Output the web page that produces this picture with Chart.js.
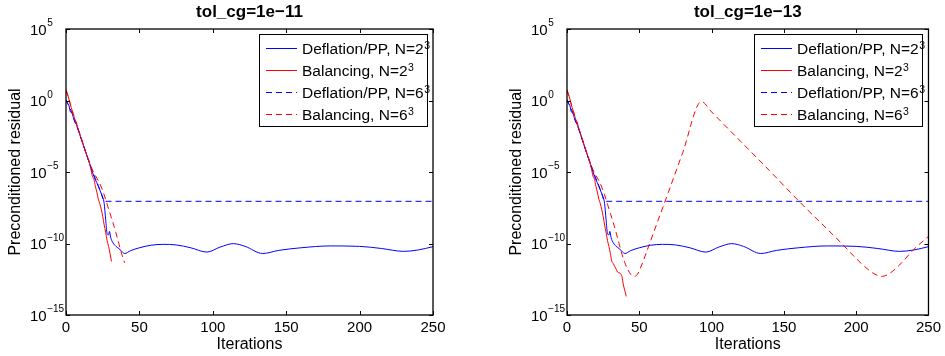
<!DOCTYPE html>
<html>
<head>
<meta charset="utf-8">
<script src="https://cdn.jsdelivr.net/npm/chart.js@4.4.1/dist/chart.umd.min.js"></script>
<style>
  html, body { margin: 0; padding: 0; background: #fff; }
  #wrap { position: relative; width: 945px; height: 356px; }
  canvas { position: absolute; top: 0; }
  #chartLeft { left: 0; }
  #chartRight { left: 501px; }
</style>
</head>
<body>
<div id="wrap">
  <canvas id="chartLeft" width="472" height="356"></canvas>
  <canvas id="chartRight" width="444" height="356"></canvas>
</div>
<script>
// panel titles, legend labels, axis ticks ('^' marks a superscript)
const panelTitles = ['tol_cg=1e\u221211', 'tol_cg=1e\u221213'];
const seriesLabels = ['Deflation/PP, N=2^3', 'Balancing, N=2^3', 'Deflation/PP, N=6^3', 'Balancing, N=6^3'];
const xTicks = [0, 50, 100, 150, 200, 250];
const yTickExp = [-15, -10, -5, 0, 5];
const yTickLabels = ['10^\u221215', '10^\u221210', '10^\u22125', '10^0', '10^5'];

// residuals are kept as log10 exponents
// Deflation/PP, N=2^3 (same in both panels)
const deflN2It  = [0, 1, 2, 3, 4, 5, 6, 7, 8, 9, 10, 11, 12, 13, 14, 15, 16, 17, 18, 19, 20, 21, 22, 23, 24, 25, 26, 27, 28, 29, 29.6, 30.5, 32, 34, 36, 38, 40, 44, 50, 58, 66, 75, 85, 96, 105, 114, 122, 134, 145, 160, 180, 200, 215, 230, 240, 250];
const deflN2Exp = [0, -0.2, -0.35, -0.8, -0.85, -1.2, -1.5, -1.65, -2.0, -2.25, -2.6, -2.85, -3.2, -3.5, -3.8, -4.1, -4.4, -4.75, -5.0, -5.3, -5.55, -5.75, -6.0, -6.25, -6.5, -6.75, -7.2, -8.3, -9.3, -9.4, -9.15, -9.6, -9.95, -10.2, -10.35, -10.55, -10.7, -10.5, -10.3, -10.12, -10.06, -10.1, -10.3, -10.6, -10.25, -10.01, -10.2, -10.7, -10.48, -10.3, -10.17, -10.2, -10.35, -10.55, -10.45, -10.22];

// Balancing, N=2^3 (right panel runs further; left panel stops earlier)
const balN2It  = [0, 1, 2, 3, 4, 5, 6, 7, 8, 9, 10, 11, 12, 13, 14, 15, 16, 17, 18, 19, 20, 21, 22, 23, 24, 25, 26, 27, 28, 29, 30, 31, 32, 33, 34, 35, 36, 37, 38, 39, 40, 41];
const balN2Exp = [0.75, 0.45, 0.1, -0.3, -0.65, -0.9, -1.35, -1.5, -1.9, -2.2, -2.55, -2.9, -3.15, -3.5, -3.75, -4.1, -4.35, -4.8, -5.3, -5.5, -6.0, -6.4, -6.9, -7.2, -7.6, -8.1, -8.7, -9.2, -9.8, -10.2, -10.7, -11.25, -11.4, -11.6, -11.8, -12.0, -12.05, -12.1, -12.3, -12.9, -13.3, -13.7];
const balN2LeftStop = 31;

// Deflation/PP, N=6^3
const deflN6It  = [0, 2, 4, 6, 8, 10, 12, 14, 16, 18, 20, 22, 24, 26, 250];
const deflN6Exp = [0.05, -0.4, -0.85, -1.45, -1.95, -2.55, -3.15, -3.8, -4.35, -4.95, -5.45, -5.95, -6.5, -7.05, -7.05];

// Balancing, N=6^3
const balN6It  = [0, 2, 4, 6, 8, 10, 12, 14, 16, 18, 20, 22, 24, 26, 28, 30, 32, 34, 36, 38, 40, 42, 44, 46, 48, 50, 55, 60, 70, 80, 93, 100, 120, 140, 160, 180, 190, 200, 208, 213, 218, 223, 230, 240, 250];
const balN6Exp = [0.7, 0.1, -0.7, -1.3, -1.95, -2.5, -3.15, -3.75, -4.35, -4.85, -5.25, -5.6, -6.05, -6.6, -7.25, -7.9, -8.55, -9.25, -10.0, -10.75, -11.35, -11.8, -12.15, -12.3, -12.25, -11.9, -10.6, -9.2, -6.45, -3.65, -0.08, -0.8, -2.85, -4.9, -7.0, -9.0, -10.0, -11.05, -11.8, -12.15, -12.3, -12.1, -11.5, -10.4, -9.5];
const balN6LeftStop = 40;

const FONT = '"Liberation Sans", Arial, Helvetica, sans-serif';
const yAxisTitle = 'Preconditioned residual';
const xAxisTitle = 'Iterations';

function points(its, exps, stop) {
    const out = [];
    its.forEach((it, i) => {
        if (stop === undefined || it <= stop) out.push({ x: it, y: Math.pow(10, exps[i]) });
    });
    return out;
}

function makeDatasets(panel) {
    const left = panel === 0;
    // later series drawn on top, like matlab
    return [
        { label: seriesLabels[0], order: 3, data: points(deflN2It, deflN2Exp), borderColor: '#0000ff', borderWidth: 1 },
        { label: seriesLabels[1], order: 2, data: points(balN2It, balN2Exp, left ? balN2LeftStop : undefined), borderColor: '#ff0000', borderWidth: 1 },
        { label: seriesLabels[2], order: 1, data: points(deflN6It, deflN6Exp), borderColor: '#0000ff', borderWidth: 1, borderDash: [6, 4] },
        { label: seriesLabels[3], order: 0, data: points(balN6It, balN6Exp, left ? balN6LeftStop : undefined), borderColor: '#ff0000', borderWidth: 1, borderDash: [6, 4] }
    ];
}

// text with one optional superscript part after '^'
function supText(ctx, str, x, y, size, supSize, rise) {
    const parts = str.split('^');
    ctx.font = size + 'px ' + FONT;
    ctx.fillText(parts[0], x, y);
    if (parts.length > 1) {
        const w = ctx.measureText(parts[0]).width;
        ctx.font = supSize + 'px ' + FONT;
        ctx.fillText(parts[1], x + w + 0.5, y - rise);
    }
}

// matlab-like box, inward ticks, y labels, rotated y title and legend inside the axes
const matlabFrame = {
    id: 'matlabFrame',
    afterDraw(chart) {
        const ctx = chart.ctx;
        const a = chart.chartArea;
        const xs = chart.scales.x, ys = chart.scales.y;
        ctx.save();
        ctx.strokeStyle = '#000';
        ctx.lineWidth = 1.3;
        ctx.strokeRect(a.left, a.top, a.right - a.left, a.bottom - a.top);
        ctx.lineWidth = 1;
        ctx.beginPath();
        xTicks.forEach(v => {
            const px = Math.round(xs.getPixelForValue(v)) + 0.5;
            ctx.moveTo(px, a.bottom); ctx.lineTo(px, a.bottom - 4);
            ctx.moveTo(px, a.top); ctx.lineTo(px, a.top + 4);
        });
        yTickExp.forEach(e => {
            const py = Math.round(ys.getPixelForValue(Math.pow(10, e))) + 0.5;
            ctx.moveTo(a.left, py); ctx.lineTo(a.left + 4, py);
            ctx.moveTo(a.right, py); ctx.lineTo(a.right - 4, py);
        });
        ctx.stroke();

        // y tick labels
        ctx.fillStyle = '#000';
        ctx.textAlign = 'left';
        ctx.textBaseline = 'alphabetic';
        yTickExp.forEach((e, i) => {
            const py = ys.getPixelForValue(Math.pow(10, e));
            supText(ctx, yTickLabels[i], a.left - 36, py + 5.5, 15, 10, 8.5);
        });

        // y axis title
        ctx.font = '16px ' + FONT;
        ctx.textAlign = 'center';
        ctx.textBaseline = 'middle';
        ctx.translate(16, (a.top + a.bottom) / 2);
        ctx.rotate(-Math.PI / 2);
        ctx.fillText(yAxisTitle, 0, 0);
        ctx.setTransform(1, 0, 0, 1, 0, 0);

        // legend
        const w = 168, h = 92;
        const x0 = Math.round(a.right - 6 - w), y0 = Math.round(a.top + 5);
        ctx.fillStyle = '#fff';
        ctx.fillRect(x0, y0, w, h);
        ctx.strokeStyle = '#000';
        ctx.strokeRect(x0 + 0.5, y0 + 0.5, w, h);
        ctx.textAlign = 'left';
        ctx.textBaseline = 'alphabetic';
        chart.data.datasets.forEach((ds, i) => {
            const y = y0 + 14.5 + i * 22;
            ctx.beginPath();
            ctx.setLineDash(ds.borderDash || []);
            ctx.strokeStyle = ds.borderColor;
            ctx.lineWidth = ds.borderWidth;
            ctx.moveTo(x0 + 7, y);
            ctx.lineTo(x0 + 38, y);
            ctx.stroke();
            ctx.setLineDash([]);
            ctx.fillStyle = '#000';
            supText(ctx, ds.label, x0 + 43, y + 5.5, 15.5, 10.5, 5.5);
        });
        ctx.restore();
    }
};

function makeChart(id, panel, padRight) {
    return new Chart(document.getElementById(id), {
        type: 'line',
        data: { datasets: makeDatasets(panel) },
        options: {
            responsive: false,
            animation: false,
            layout: { padding: { left: 30, right: padRight, top: 0, bottom: 0 } },
            elements: {
                point: { radius: 0 },
                line: { cubicInterpolationMode: 'monotone', fill: false }
            },
            plugins: {
                legend: { display: false },
                tooltip: { enabled: false },
                title: {
                    display: true,
                    text: panelTitles[panel],
                    fullSize: false,
                    color: '#000',
                    font: { family: FONT, size: 17, weight: 'bold' },
                    padding: { top: 2, bottom: 6.6 }
                }
            },
            scales: {
                x: {
                    type: 'linear',
                    min: 0,
                    max: 250,
                    afterBuildTicks: s => { s.ticks = xTicks.map(v => ({ value: v })); },
                    afterFit: s => { s.height = 41; },
                    grid: { display: false, drawTicks: false },
                    border: { display: false },
                    ticks: { color: '#000', font: { family: FONT, size: 15 }, padding: 4, maxRotation: 0 },
                    title: {
                        display: true,
                        text: xAxisTitle,
                        color: '#000',
                        font: { family: FONT, size: 16 },
                        padding: { top: 0, bottom: 1.5 }
                    }
                },
                y: {
                    type: 'logarithmic',
                    min: 1e-15,
                    max: 1e5,
                    afterBuildTicks: s => { s.ticks = yTickExp.map(e => ({ value: Math.pow(10, e) })); },
                    afterFit: s => { s.width = 36; },
                    grid: { display: false, drawTicks: false },
                    border: { display: false },
                    ticks: { display: false }
                }
            }
        },
        plugins: [matlabFrame]
    });
}

makeChart('chartLeft', 0, 39);
makeChart('chartRight', 1, 12);
</script>
</body>
</html>
